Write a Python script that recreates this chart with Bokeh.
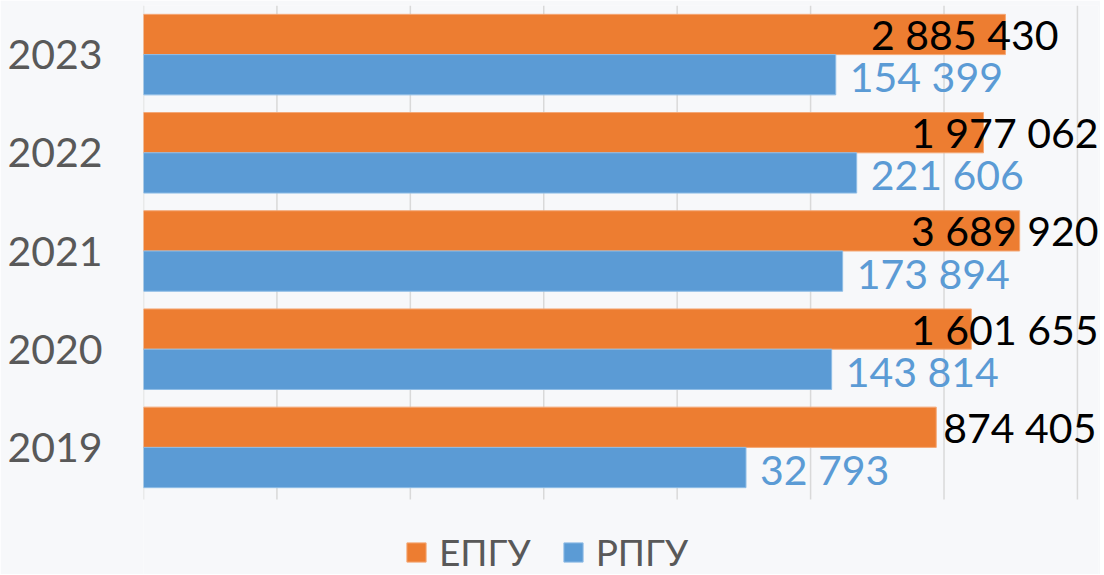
from bokeh.plotting import figure
from bokeh.models import ColumnDataSource, Range1d, FixedTicker, Legend, LegendItem
from bokeh.core.properties import value
from bokeh.embed import file_html
from bokeh.resources import INLINE

years = ["2019", "2020", "2021", "2022", "2023"]
epgu = [874405, 1601655, 3689920, 1977062, 2885430]
rpgu = [32793, 143814, 173894, 221606, 154399]

ORANGE = "#ed7d31"
BLUE = "#5b9bd5"
GREY = "#595959"
BG = "#f7f8fa"
FONT = "Lato"

def fmt(v):
    return f"{v:,}".replace(",", " ")

W, Hgt = 1100, 574
TOP = 5
LEFT = 143
PITCH = 98.2
XMIN = 1
XMAX = 10 ** ((W - 2 - 147) / 132.86)
DODGE = 0.205
BAR_H = 0.41

# label placement styling (Excel moved the long labels back inside the plot area)
epgu_align = ["left", "right", "right", "right", "right"]
epgu_shift = [7, 0, 0, 0, -40]

idx = list(range(len(years)))
src = ColumnDataSource(dict(
    pos=idx,
    y_e=[i + DODGE for i in idx],
    y_r=[i - DODGE for i in idx],
    epgu=epgu,
    rpgu=rpgu,
    left=[XMIN] * len(years),
    epgu_lbl=[fmt(v) for v in epgu],
    rpgu_lbl=[fmt(v) for v in rpgu],
    epgu_lx=[v if a == "left" else XMAX for v, a in zip(epgu, epgu_align)],
    epgu_align=epgu_align,
    epgu_shift=epgu_shift,
))

y_top = len(years) - 0.5
y_bot = y_top - (Hgt - TOP) / PITCH

p = figure(width=W, height=Hgt, x_axis_type="log",
           x_range=Range1d(XMIN, XMAX), y_range=Range1d(y_bot, y_top),
           output_backend="svg", toolbar_location=None,
           min_border_left=LEFT, min_border_right=2, min_border_top=TOP, min_border_bottom=0)
p.background_fill_color = BG
p.border_fill_color = BG
p.outline_line_color = None

# vertical gridlines at each decade, spanning only the category band
decades = [10 ** k for k in range(8)]
p.segment(x0=decades, x1=decades, y0=[-0.53] * len(decades), y1=[y_top] * len(decades),
          line_color="#d9d9d9", line_width=1.5)

r_e = p.hbar(y="y_e", left="left", right="epgu", height=BAR_H,
             source=src, fill_color=ORANGE, line_color="#f4a876", line_width=1)
r_r = p.hbar(y="y_r", left="left", right="rpgu", height=BAR_H,
             source=src, fill_color=BLUE, line_color="#8fbde6", line_width=1)

p.text(x="epgu_lx", y="y_e", text="epgu_lbl", source=src,
       text_align="epgu_align", x_offset="epgu_shift", text_baseline="middle",
       text_font=value(FONT), text_font_size="41px", text_color="black")
p.text(x="rpgu", y="y_r", text="rpgu_lbl", source=src,
       text_align="left", x_offset=14, y_offset=2, text_baseline="middle",
       text_font=value(FONT), text_font_size="41px", text_color=BLUE)

p.xaxis.visible = False
p.xgrid.grid_line_color = None
p.ygrid.grid_line_color = None

p.yaxis.ticker = FixedTicker(ticks=idx)
p.yaxis.major_label_overrides = {i: y for i, y in zip(idx, years)}
p.yaxis.axis_line_color = None
p.yaxis.major_tick_line_color = None
p.yaxis.minor_tick_line_color = None
p.yaxis.major_label_standoff = 35
p.yaxis.major_label_text_font = FONT
p.yaxis.major_label_text_font_size = "41px"
p.yaxis.major_label_text_color = GREY

legend = Legend(items=[LegendItem(label="ЕПГУ", renderers=[r_e]),
                       LegendItem(label="РПГУ", renderers=[r_r])],
                orientation="horizontal", location=(261, 0),
                glyph_width=24, glyph_height=24, label_standoff=11, spacing=30,
                padding=0, margin=0, border_line_color=None, background_fill_alpha=0,
                label_text_font=FONT, label_text_font_size="37px", label_text_color=GREY,
                label_height=24)
p.add_layout(legend, "center")

open("out.html", "w").write(file_html(p, INLINE))
